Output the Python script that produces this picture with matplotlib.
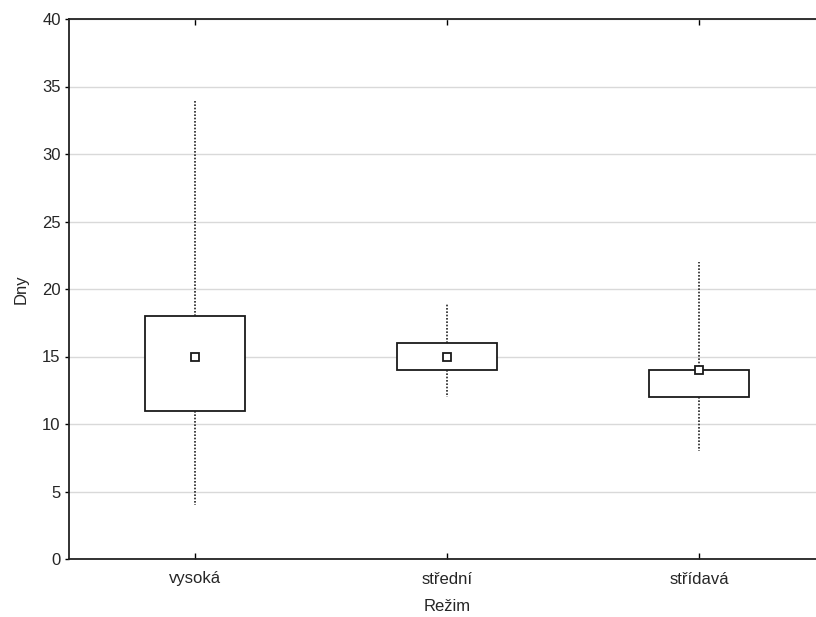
import matplotlib
matplotlib.use("Agg")
import matplotlib.pyplot as plt

plt.rcParams['font.family'] = ['Liberation Sans', 'DejaVu Sans']

categories = ['vysoká', 'střední', 'střídavá']
medians = [15, 15, 14]
q1 = [11, 14, 12]
q3 = [18, 16, 14]
whislo = [4, 12, 8]
whishi = [34, 19, 22]
yticks = [0, 5, 10, 15, 20, 25, 30, 35, 40]

fs = 12
tc = '#262626'

fig = plt.figure(figsize=(8.16, 6.17), dpi=100)
ax = fig.add_axes([69/816, 1 - 559/617, 756/816, 540/617])

stats = []
for i, c in enumerate(categories):
    stats.append(dict(label=c, med=medians[i], q1=q1[i], q3=q3[i],
                      whislo=whislo[i], whishi=whishi[i], fliers=[]))

positions = list(range(1, len(categories) + 1))
ax.bxp(stats, positions=positions, widths=0.4, showcaps=False,
       showfliers=False, patch_artist=True,
       boxprops=dict(facecolor='white', edgecolor='#1a1a1a', linewidth=1.3),
       whiskerprops=dict(color='#222222', linestyle=(0, (1.0, 1.0)), linewidth=1.2),
       medianprops=dict(linewidth=0, color='none'), zorder=3)
ax.plot(positions, medians, linestyle='none', marker='s', markersize=5.5,
        markerfacecolor='white', markeredgecolor='#1a1a1a', markeredgewidth=1.3, zorder=5)

ax.set_xlim(0.5, 3.5)
ax.set_ylim(0, 40)
ax.set_yticks(yticks)
ax.set_yticklabels([str(v) for v in yticks], fontsize=fs, color=tc)
ax.set_xticks(positions)
ax.set_xticklabels(categories, fontsize=fs, color=tc)
ax.yaxis.grid(True, color='#d9d9d9', linewidth=1.0)
ax.set_axisbelow(True)

ax.tick_params(axis='y', direction='out', length=3, width=1, pad=3)
ax.tick_params(axis='x', direction='in', length=4, width=1, pad=9, top=True)

for s in ['left', 'bottom', 'top']:
    ax.spines[s].set_linewidth(1.3)
    ax.spines[s].set_color('#222222')
ax.spines['right'].set_visible(False)

ax.set_xlabel('Režim', fontsize=fs, color=tc, labelpad=9)
ax.set_ylabel('Dny', fontsize=fs, color=tc, labelpad=10)

fig.savefig('out.png', dpi=100)
